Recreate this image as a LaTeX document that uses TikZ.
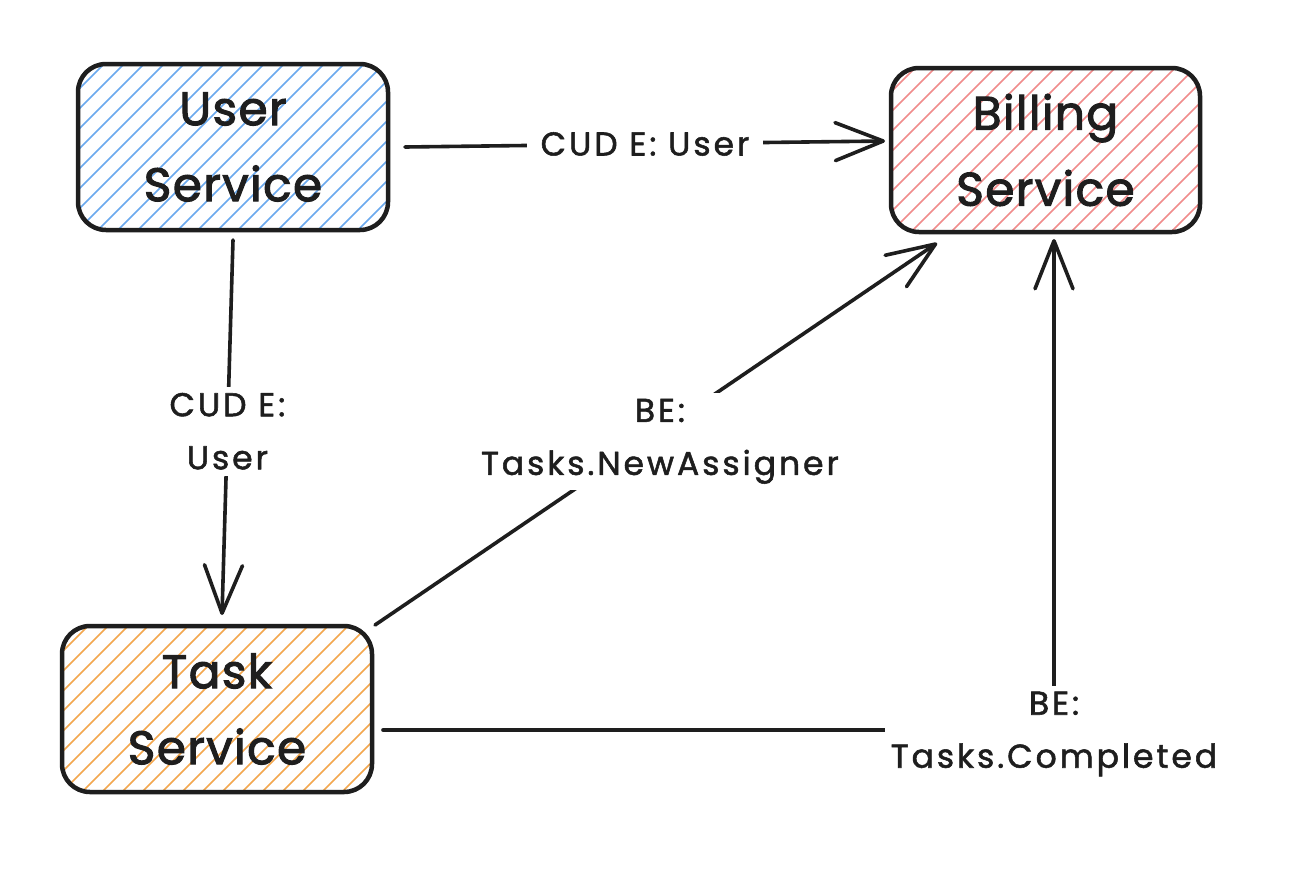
\documentclass[tikz,border=0pt]{standalone}
\usepackage{fontspec}
\setmainfont{Poppins}
\newfontfamily\boxfont{Poppins}[FakeBold=2.2, LetterSpace=3]
\newfontfamily\lblfont{Poppins}[LetterSpace=9, FakeBold=1.6]
\usetikzlibrary{arrows.meta}
\definecolor{ink}{HTML}{1E1E1E}
\definecolor{hblue}{HTML}{6AA9EE}
\definecolor{hred}{HTML}{F08C8C}
\definecolor{horange}{HTML}{F3A74E}
\tikzset{
  svc/.style={draw=ink, line width=4.5pt, rounded corners=28pt, align=center,
    text=ink, font=\boxfont\fontsize{47}{76}\selectfont, inner sep=0pt},
  conn/.style={draw=ink, line width=3.6pt, line cap=round, line join=round,
    -{Straight Barb[length=48pt,width=38pt,line cap=round,line join=round]}},
  lbl/.style={fill=white, text=ink, align=center, inner sep=6pt,
    font=\lblfont\fontsize{33}{53}\selectfont},
  hatchline/.style={line width=1.7pt}
}
\newcommand{\hatchrect}[5]{%
  \begin{scope}
    \clip[rounded corners=28pt] (#1,#2) rectangle (#3,#4);
    \pgfmathsetmacro{\hh}{#4-#2}
    \foreach \k in {-180,-160,...,340}
      \draw[#5, hatchline] (#1+\k,#4) -- ++(\hh,-\hh);
  \end{scope}}
\begin{document}
\begin{tikzpicture}[x=1pt,y=-1pt]
\useasboundingbox[fill=white] (0,0) rectangle (1314,868);

% hatch fills
\hatchrect{78}{64}{388}{230}{hblue}
\hatchrect{891}{68}{1200}{232}{hred}
\hatchrect{62}{626}{372}{792}{horange}

% boxes
\node[svc, minimum width=310pt, minimum height=166pt] (user) at (233,147) {User\\Service};
\node[svc, minimum width=309pt, minimum height=164pt] (bill) at (1045.5,150) {Billing\\Service};
\node[svc, minimum width=310pt, minimum height=166pt] (task) at (217,709) {Task\\Service};

% anchors for connector ends
\coordinate (u1) at (405,147);
\coordinate (b1) at (885,141);
\coordinate (u2) at (233,240);
\coordinate (t2) at (222,615);
\coordinate (t3) at (375,625);
\coordinate (b3) at (937,243);
\coordinate (t4) at (383,730);
\coordinate (corner) at (1054,730);
\coordinate (b4) at (1054,239);

% connectors
\draw[conn] (u1) -- node[lbl, inner xsep=14pt] (l1) {CUD E: User} (b1);
\draw[conn] (u2) -- node[lbl, pos=0.51] (l2) {CUD E:\\User} (t2);
\draw[conn] (t3) -- node[lbl, pos=0.507, yshift=-10pt] (l3) {BE:\\Tasks.NewAssigner} (b3);
\draw[conn] (t4) -- (corner) -- (b4);
\node[lbl] (l4) at (1054,734) {BE:\\Tasks.Completed};
\end{tikzpicture}
\end{document}
